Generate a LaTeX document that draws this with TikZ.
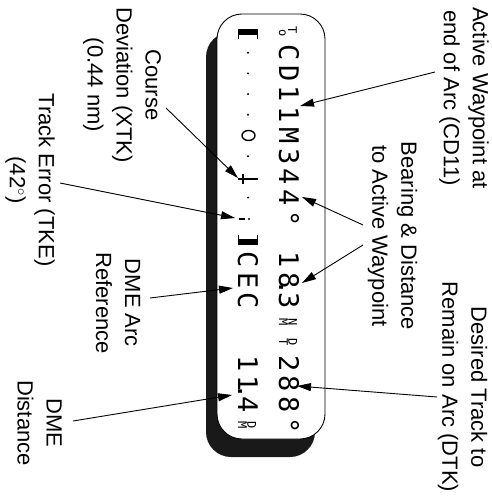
\documentclass[tikz,border=0pt]{standalone}
\usepackage{fontspec}
\setmainfont{Liberation Sans}
\newfontfamily\dispfont{DejaVu Sans Mono}
\usetikzlibrary{arrows.meta}
\newcommand\mystk[2]{\begin{tabular}[b]{@{}c@{}}#1\\[-3pt]#2\end{tabular}}
\begin{document}
\begin{tikzpicture}[x=1pt,y=-1pt,
  lbl/.style={rotate=-90, align=center, font=\fontsize{22}{29}\selectfont, inner sep=0pt},
  disp/.style={rotate=-90, anchor=base, inner sep=0pt, font=\dispfont\fontsize{27}{27}\selectfont},
  dsmall/.style={rotate=-90, anchor=base, inner sep=0pt, font=\dispfont\fontsize{12}{12}\selectfont},
  ptr/.style={line width=0.9pt, -{Triangle[length=14pt,width=8pt]}},
  dotmark/.style={fill=black},
]
\useasboundingbox (0,0) rectangle (491,502);
% shadow and panel
\fill[black!90] (206,32) [rounded corners=25pt] rectangle (315,457);
\draw[fill=white, line width=0.9pt] (217,14) [rounded corners=25pt] rectangle (325,439);

% right display row
\foreach \k/\c in {1/C,2/D,3/1,4/1,5/M,6/3,7/4,8/4,9/{\char"B0},11/1,12/8,13/{\llap{.\kern-3pt}3},16/2,17/8,18/8,19/{\char"B0}}
  \node[disp] (r\k) at (279,32+20.7*\k) {\c};
\node[dsmall] (r0) at (279,32) {\mystk{T\kern3pt}{\kern3pt o}};
\node[dsmall] (r14) at (279,32+20.7*14) {\mystk{N}{M}};
\node[dsmall] (r15) at (279,32+20.7*15) {\mystk{D}{T}};

% left display row
\foreach \k/\c in {11/C,12/E,13/C,16/1,17/1,18/{\llap{.\kern-3pt}4}}
  \node[disp] (l\k) at (238,32+20.7*\k) {\c};
\node[dsmall] (l19) at (238,32+20.7*19) {\mystk{D}{M}};
\foreach \k in {1,2,3,4,6,8}
  \fill[dotmark] (248,32+20.7*\k) circle[radius=1.1pt];
\draw[line width=1.4pt] (248.5,32+20.7*5) ellipse[x radius=6.5pt, y radius=5pt];
% CDI end markers
\fill (238,29) rectangle (258,35);
\draw[line width=1pt] (238.5,29) -- (238.5,39) (257.5,29) -- (257.5,39);
\fill (238,239) rectangle (258,245);
\draw[line width=1pt] (238.5,235) -- (238.5,245) (257.5,235) -- (257.5,245);
% needle
\draw[line width=1.2pt] (238,179) -- (258,179) (243,174) -- (243,184);
% track error mark
\draw[line width=1.2pt] (239,219) -- (245,219);
\fill (249,219) circle[radius=1.1pt];

% labels
\node[lbl] (t1) at (464,98) {Active Waypoint at\\end of Arc (CD11)};
\node[lbl] (t2) at (392.5,236) {Bearing \& Distance\\to Active Waypoint};
\node[lbl] (t3) at (462.5,387) {Desired Track to\\Remain on Arc (DTK)};
\node[lbl] (t4) at (122,85) {Course\\Deviation (XTK)\\(0.44 nm)};
\node[lbl] (t5) at (30,180) {Track Error (TKE)\\(42$^\circ$)};
\node[lbl] (t6) at (118,303) {DME Arc\\Reference};
\node[lbl] (t7) at (39.5,423) {DME\\Distance};

% connector ends
\coordinate (s1) at (435,72);   \coordinate (e1) at (300,106);
\coordinate (s2) at (363,225);  \coordinate (e2) at (302,197);
\coordinate (s2b) at (363,245); \coordinate (e2b) at (302,283);
\coordinate (s3) at (437,397);  \coordinate (e3) at (297,386);
\coordinate (s4) at (166,108);  \coordinate (e4) at (238,178);
\coordinate (s5) at (60,183);   \coordinate (e5) at (235,218);
\coordinate (s6) at (150,298);  \coordinate (e6) at (233,288);
\coordinate (s7) at (73,421);   \coordinate (e7) at (232,395);
\foreach \a/\b in {s1/e1,s2/e2,s2b/e2b,s3/e3,s4/e4,s5/e5,s6/e6,s7/e7}
  \draw[ptr] (\a) -- (\b);
\end{tikzpicture}
\end{document}
